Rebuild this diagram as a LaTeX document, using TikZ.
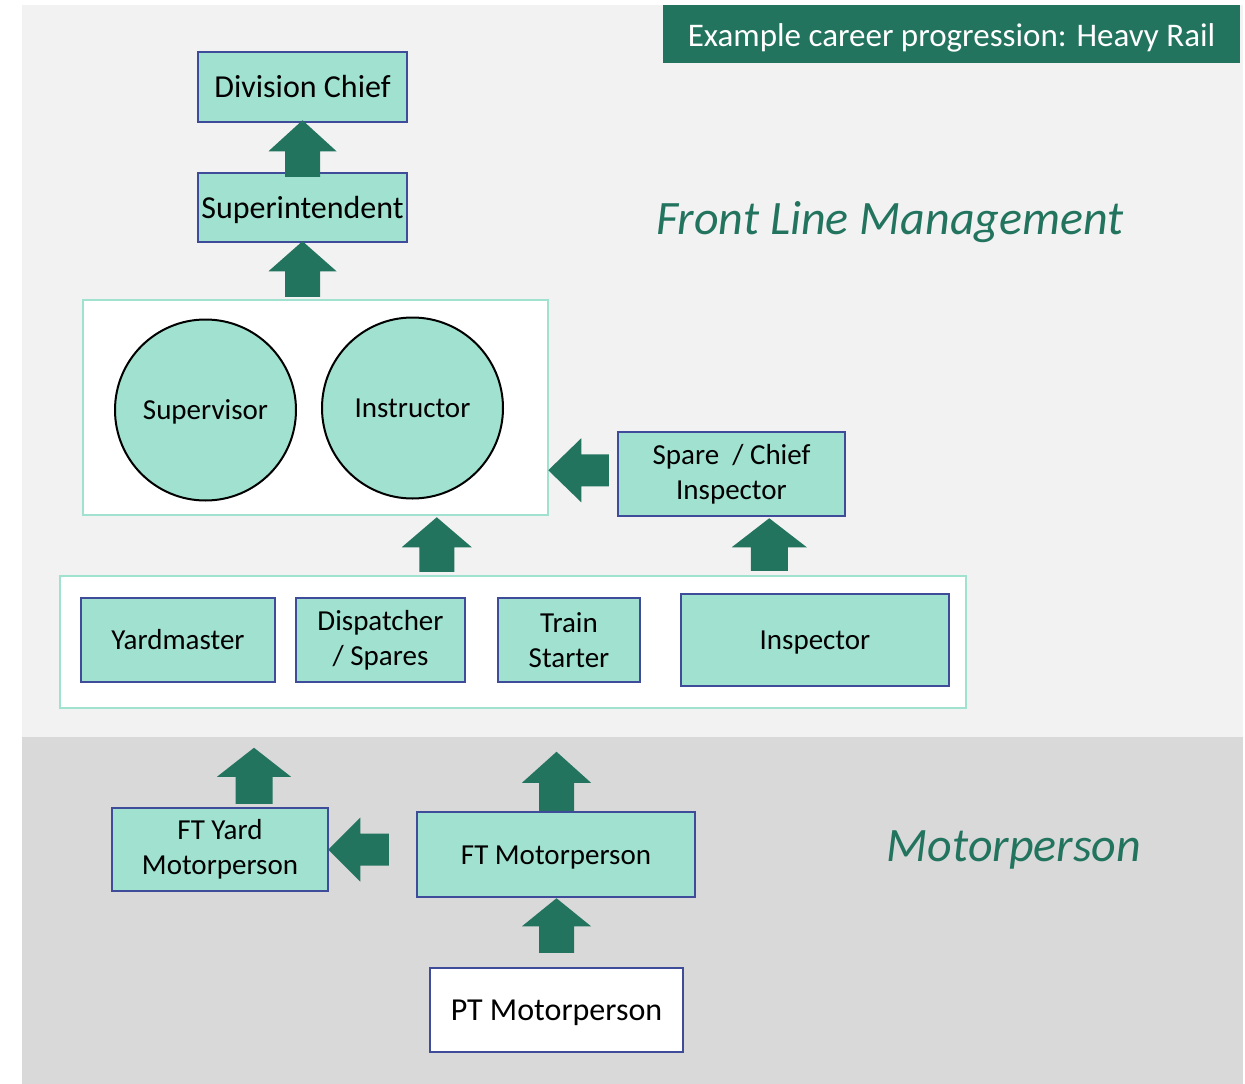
\documentclass[tikz,border=0pt]{standalone}
\usepackage{fontspec}
\setmainfont{Carlito}
\usetikzlibrary{calc}

\definecolor{mint}{HTML}{A0E1D0}
\definecolor{rolblue}{HTML}{3F4C9A}
\definecolor{deepgreen}{HTML}{23745E}
\definecolor{paleground}{HTML}{F2F2F2}
\definecolor{greyground}{HTML}{D9D9D9}

% upward block arrow: tail point, tip point, head length, head half width, shaft half width
\newcommand\blockarrowv[5]{%
  \fill[deepgreen] let \p1=#1, \p2=#2 in
    (\x2,\y2) -- (\x2+#4,\y2-#3) -- (\x2+#5,\y2-#3) -- (\x2+#5,\y1)
    -- (\x2-#5,\y1) -- (\x2-#5,\y2-#3) -- (\x2-#4,\y2-#3) -- cycle;}
% leftward block arrow: tail point, tip point, head length, head half height, shaft half height
\newcommand\blockarrowh[5]{%
  \fill[deepgreen] let \p1=#1, \p2=#2 in
    (\x2,\y2) -- (\x2+#3,\y2+#4) -- (\x2+#3,\y2+#5) -- (\x1,\y2+#5)
    -- (\x1,\y2-#5) -- (\x2+#3,\y2-#5) -- (\x2+#3,\y2-#4) -- cycle;}

\tikzset{
  rolebox/.style={draw=rolblue, line width=2.5pt, fill=mint, inner sep=0pt,
    align=center, font=\fontsize{29}{35}\selectfont},
  bigrole/.style={rolebox, font=\fontsize{32}{38}\selectfont},
  % single-line text: capitals centred on the node
  oneline/.style={text height=#1, text depth=0pt},
  groupbox/.style={draw=mint, line width=2.5pt, fill=white, inner sep=0pt},
  rolecircle/.style={circle, draw=black, line width=2pt, fill=mint, inner sep=0pt,
    minimum size=181pt, font=\fontsize{29}{35}\selectfont, oneline=19pt},
  bandlabel/.style={text=deepgreen, font=\fontsize{48}{56}\selectfont\itshape,
    inner sep=0pt, oneline=31pt},
}

\begin{document}
\begin{tikzpicture}[x=1pt,y=-1pt]
\useasboundingbox (0,0) rectangle (1245,1084);
\fill[white] (0,0) rectangle (1245,1084);

% two background bands
\fill[paleground] (22,5) rectangle (1243,737);
\fill[greyground] (22,737) rectangle (1243,1084);

% heading
\node[fill=deepgreen, minimum width=577pt, minimum height=58pt, inner sep=0pt,
  text=white, font=\fontsize{33}{40}\selectfont, oneline=24.5pt] (title) at (951.5,34)
  {Example career progression: Heavy Rail};

% band labels
\node[bandlabel] (flm) at (890,218.5) {Front Line Management};
\node[bandlabel] (mp) at (1014,846) {Motorperson};

% management ladder
\node[bigrole, oneline=21.5pt, minimum width=209pt, minimum height=70pt] (divchief) at (302.5,87) {Division Chief};
\node[bigrole, oneline=21.5pt, minimum width=209pt, minimum height=69pt] (superint) at (302.5,207.5) {Superintendent};

\node[groupbox, minimum width=465pt, minimum height=215pt] (mgmtbox) at (315.5,407.5) {};
\node[rolecircle] (supervisor) at (205.5,410) {Supervisor};
\node[rolecircle] (instructor) at (412.5,408) {Instructor};

\node[rolebox, minimum width=227pt, minimum height=84pt] (spare) at (731.5,474) {Spare\ \ / Chief\\Inspector};

% operations row
\node[groupbox, minimum width=906pt, minimum height=132pt] (rowbox) at (513,642) {};
\node[rolebox, oneline=19pt, minimum width=194pt, minimum height=84pt] (yard) at (178,640) {Yardmaster};
\node[rolebox, minimum width=169pt, minimum height=84pt] (disp) at (380.5,640) {Dispatcher\\/ Spares};
\node[rolebox, minimum width=142pt, minimum height=84pt] (train) at (569,640) {Train\\Starter};
\node[rolebox, oneline=19pt, minimum width=268pt, minimum height=92pt] (insp) at (815,640) {Inspector};

% motorperson band
\node[rolebox, minimum width=216pt, minimum height=83pt] (ftyard) at (220,849.5) {FT Yard\\Motorperson};
\node[rolebox, oneline=19pt, minimum width=278pt, minimum height=85pt] (ftmotor) at (556,854.5) {FT Motorperson};
\node[bigrole, oneline=21.5pt, fill=white, minimum width=253pt, minimum height=84pt] (ptmotor) at (556.5,1010) {PT Motorperson};

% progression arrows
\blockarrowv{($(superint.north)+(0,5)$)}{($(divchief.south)+(0,-3)$)}{31pt}{34pt}{17.5pt}
\blockarrowv{($(mgmtbox.north)+(0,-2)$)}{($(superint.south)+(0,-2)$)}{30pt}{34pt}{17.5pt}
\blockarrowv{($(rowbox.north west)+(378,-3)$)}{($(mgmtbox.south west)+(355,1)$)}{30pt}{35pt}{17.5pt}
\blockarrowv{($(rowbox.north west)+(710,-4)$)}{($(spare.south west)+(152.5,1)$)}{29pt}{37.5pt}{18.5pt}
\blockarrowh{($(spare.west)+(-8,0)$)}{($(mgmtbox.south east)+(-1,-46)$)}{33pt}{32pt}{16pt}

\blockarrowv{($(ftyard.north)+(34,-3)$)}{($(ftyard.north)+(34,-59)$)}{29pt}{37pt}{18.5pt}
\blockarrowv{($(ftmotor.north)+(0,0)$)}{($(ftmotor.north)+(0.5,-59)$)}{31pt}{34.5pt}{17.5pt}
\blockarrowv{($(ptmotor.north)+(0,-14)$)}{($(ftmotor.south)+(0.5,0)$)}{28pt}{34.5pt}{17.5pt}
\blockarrowh{($(ftmotor.west)+(-27,0)$)}{($(ftyard.east)+(-1,0)$)}{32pt}{32pt}{16pt}
\end{tikzpicture}
\end{document}
